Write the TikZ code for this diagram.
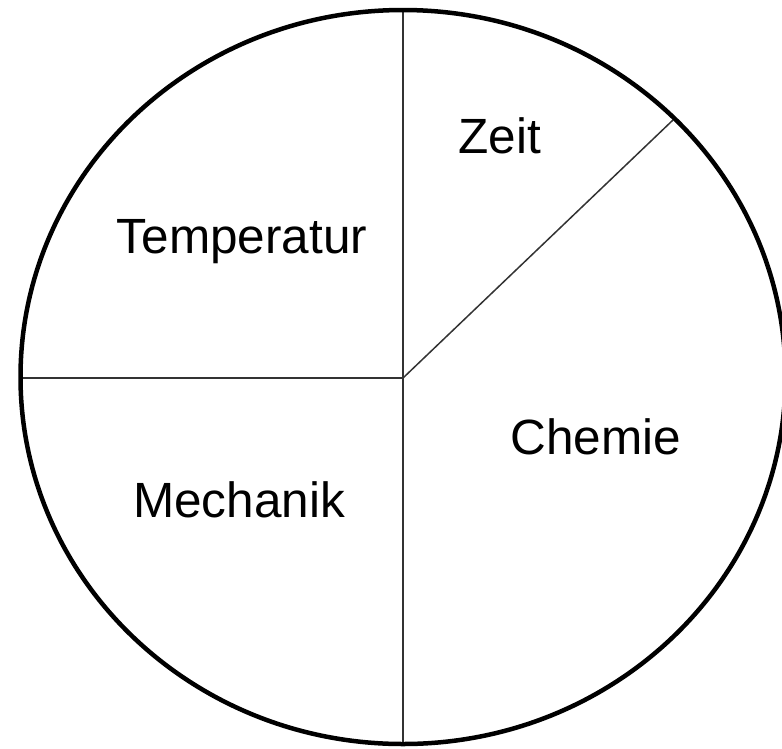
\documentclass[tikz,border=0pt]{standalone}
\usepackage{fontspec}
\setmainfont{Liberation Sans}
\begin{document}
\begin{tikzpicture}[x=1pt,y=-1pt,
  rim/.style={line width=4.5pt},
  divider/.style={line width=1.5pt, draw=black!80},
  label/.style={anchor=base, inner sep=0pt, font=\fontsize{49.5}{58}\selectfont}]
\useasboundingbox (0,0) rectangle (782,748);
\clip (0,0) rectangle (782,748);
\coordinate (c) at (403,378);
\coordinate (top) at (403,10);
\coordinate (bot) at (403,744);
\coordinate (left) at (20.5,378);
\coordinate (diag) at (673,120);
\draw[divider] (top) -- (bot);
\draw[divider] (left) -- (c);
\draw[divider] (c) -- (diag);
\draw[rim] (403,377) ellipse [x radius=382.5, y radius=367];
\node[label] (zeit) at (500,153) {Zeit};
\node[label] (temp) at (242,253) {Temperatur};
\node[label] (chem) at (596,454) {Chemie};
\node[label] (mech) at (239,517) {Mechanik};
\end{tikzpicture}
\end{document}
